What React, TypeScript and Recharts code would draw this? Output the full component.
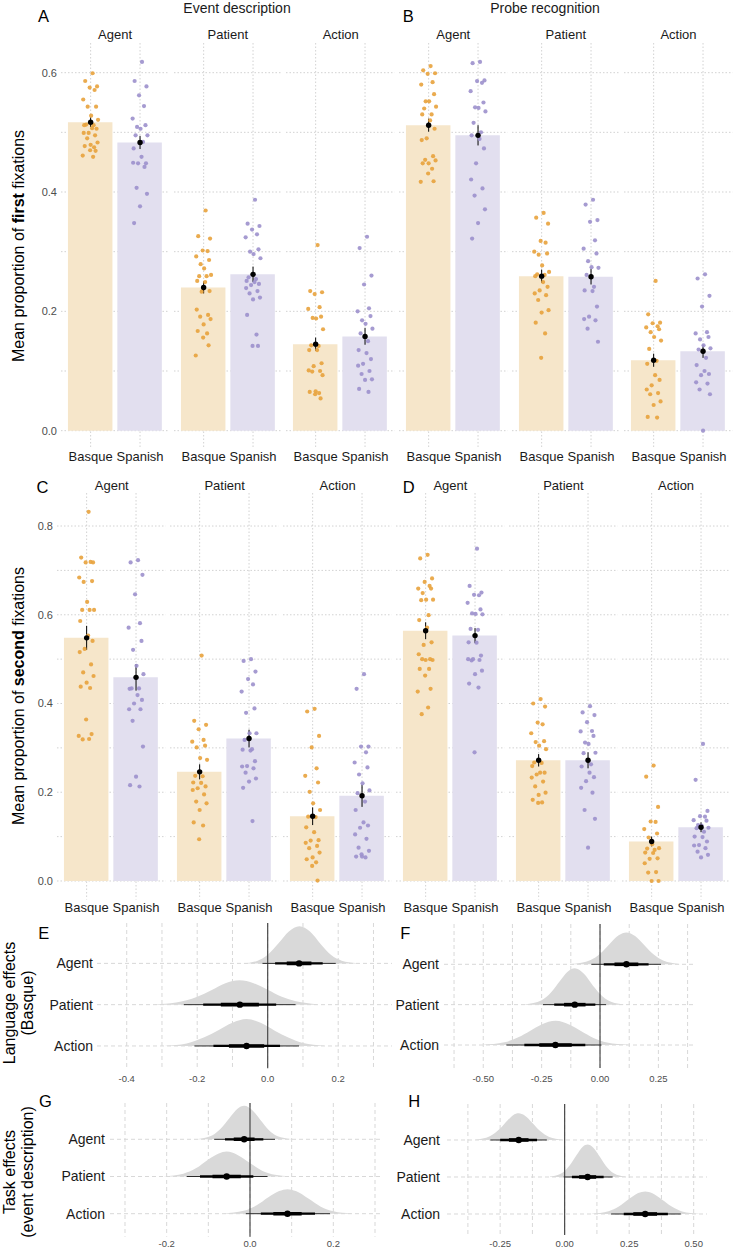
import React from 'react';
import { ComposedChart, Bar, Cell, Scatter, ErrorBar, XAxis, YAxis, CartesianGrid, Area, Line, ReferenceLine } from 'recharts';

const FONT = '"Liberation Sans", Arial, Helvetica, sans-serif';

const LANGS = ['Basque', 'Spanish'];
const ROLES = ['Agent', 'Patient', 'Action'];
const ROW_LABEL: Record<number, string> = { 3: 'Agent', 2: 'Patient', 1: 'Action' };

// ---------- A: Event description, first fixations ----------
const ED1_AGENT_BQ = [0.599, 0.586, 0.577, 0.575, 0.571, 0.555, 0.543, 0.543, 0.528, 0.521, 0.513, 0.512, 0.512, 0.507, 0.506, 0.499, 0.499, 0.495, 0.49, 0.483, 0.479, 0.477, 0.475, 0.47, 0.469, 0.461, 0.459];
const ED1_AGENT_ES = [0.618, 0.586, 0.577, 0.562, 0.544, 0.523, 0.512, 0.509, 0.506, 0.495, 0.495, 0.484, 0.473, 0.459, 0.448, 0.448, 0.449, 0.442, 0.407, 0.397, 0.376, 0.348];
const ED1_PATIENT_BQ = [0.369, 0.326, 0.322, 0.302, 0.301, 0.292, 0.286, 0.279, 0.272, 0.261, 0.259, 0.259, 0.251, 0.249, 0.234, 0.233, 0.203, 0.194, 0.191, 0.187, 0.178, 0.167, 0.163, 0.156, 0.143, 0.126];
const ED1_PATIENT_ES = [0.387, 0.347, 0.343, 0.337, 0.329, 0.324, 0.304, 0.3, 0.296, 0.289, 0.257, 0.254, 0.251, 0.249, 0.246, 0.244, 0.239, 0.234, 0.23, 0.223, 0.22, 0.194, 0.161, 0.142, 0.142];
const ED1_ACTION_BQ = [0.311, 0.234, 0.232, 0.229, 0.207, 0.204, 0.191, 0.189, 0.188, 0.17, 0.143, 0.142, 0.135, 0.135, 0.113, 0.108, 0.101, 0.1, 0.099, 0.093, 0.066, 0.065, 0.063, 0.061, 0.054];
const ED1_ACTION_ES = [0.325, 0.306, 0.26, 0.245, 0.205, 0.2, 0.192, 0.185, 0.179, 0.171, 0.163, 0.15, 0.135, 0.13, 0.12, 0.112, 0.109, 0.1, 0.095, 0.086, 0.085, 0.07, 0.065];
const ED1_MEANS = [[0.517, 0.483], [0.24, 0.262], [0.145, 0.158]];
const ED1_SE = [[0.008, 0.011], [0.01, 0.013], [0.011, 0.014]];

// ---------- B: Probe recognition, first fixations ----------
const PR1_AGENT_BQ = [0.611, 0.604, 0.599, 0.598, 0.584, 0.58, 0.564, 0.552, 0.552, 0.543, 0.54, 0.53, 0.53, 0.52, 0.506, 0.49, 0.487, 0.46, 0.454, 0.453, 0.448, 0.448, 0.439, 0.431, 0.418, 0.417];
const PR1_AGENT_ES = [0.618, 0.616, 0.587, 0.586, 0.583, 0.569, 0.55, 0.542, 0.541, 0.535, 0.516, 0.5, 0.495, 0.489, 0.473, 0.448, 0.421, 0.406, 0.394, 0.371, 0.348, 0.322];
const PR1_PATIENT_BQ = [0.365, 0.357, 0.347, 0.318, 0.315, 0.3, 0.297, 0.295, 0.277, 0.266, 0.262, 0.261, 0.259, 0.249, 0.241, 0.235, 0.23, 0.227, 0.219, 0.202, 0.198, 0.181, 0.163, 0.122];
const PR1_PATIENT_ES = [0.387, 0.379, 0.353, 0.35, 0.319, 0.305, 0.297, 0.284, 0.274, 0.273, 0.261, 0.241, 0.235, 0.234, 0.208, 0.191, 0.187, 0.185, 0.171, 0.149];
const PR1_ACTION_BQ = [0.251, 0.195, 0.181, 0.18, 0.175, 0.173, 0.17, 0.165, 0.157, 0.151, 0.137, 0.117, 0.112, 0.093, 0.085, 0.076, 0.069, 0.063, 0.061, 0.049, 0.043, 0.023, 0.022];
const PR1_ACTION_ES = [0.262, 0.255, 0.226, 0.208, 0.165, 0.163, 0.157, 0.153, 0.143, 0.138, 0.136, 0.122, 0.11, 0.1, 0.095, 0.093, 0.081, 0.079, 0.069, 0.061, 0.0];
const PR1_MEANS = [[0.512, 0.495], [0.259, 0.258], [0.118, 0.133]];
const PR1_SE = [[0.011, 0.017], [0.011, 0.013], [0.011, 0.011]];

// ---------- C: Event description, second fixations ----------
const ED2_AGENT_BQ = [0.832, 0.729, 0.718, 0.718, 0.719, 0.684, 0.676, 0.674, 0.629, 0.611, 0.611, 0.611, 0.586, 0.553, 0.541, 0.523, 0.516, 0.488, 0.47, 0.462, 0.447, 0.438, 0.435, 0.364, 0.331, 0.327, 0.32, 0.319];
const ED2_AGENT_ES = [0.723, 0.718, 0.69, 0.646, 0.581, 0.571, 0.541, 0.521, 0.485, 0.466, 0.434, 0.434, 0.433, 0.419, 0.408, 0.4, 0.387, 0.387, 0.361, 0.303, 0.235, 0.216, 0.213];
const ED2_PATIENT_BQ = [0.508, 0.361, 0.352, 0.342, 0.318, 0.314, 0.305, 0.301, 0.277, 0.273, 0.237, 0.236, 0.222, 0.221, 0.213, 0.209, 0.205, 0.195, 0.179, 0.175, 0.16, 0.132, 0.125, 0.094];
const ED2_PATIENT_ES = [0.5, 0.496, 0.472, 0.455, 0.443, 0.427, 0.389, 0.379, 0.333, 0.333, 0.318, 0.297, 0.296, 0.294, 0.27, 0.259, 0.258, 0.254, 0.244, 0.231, 0.224, 0.21, 0.135];
const ED2_ACTION_BQ = [0.388, 0.382, 0.327, 0.301, 0.254, 0.237, 0.222, 0.201, 0.175, 0.16, 0.145, 0.144, 0.121, 0.11, 0.092, 0.091, 0.086, 0.079, 0.074, 0.064, 0.053, 0.049, 0.042, 0.034, 0.001];
const ED2_ACTION_ES = [0.466, 0.433, 0.303, 0.303, 0.29, 0.267, 0.256, 0.24, 0.22, 0.204, 0.198, 0.179, 0.16, 0.132, 0.125, 0.12, 0.105, 0.095, 0.075, 0.068, 0.055, 0.055, 0.053, 0.06];
const ED2_MEANS = [[0.548, 0.459], [0.246, 0.321], [0.146, 0.192]];
const ED2_SE = [[0.027, 0.03], [0.017, 0.02], [0.02, 0.025]];

// ---------- D: Probe recognition, second fixations ----------
const PR2_AGENT_BQ = [0.735, 0.727, 0.682, 0.674, 0.665, 0.659, 0.659, 0.649, 0.634, 0.634, 0.633, 0.599, 0.588, 0.571, 0.538, 0.532, 0.511, 0.5, 0.5, 0.498, 0.498, 0.478, 0.478, 0.463, 0.433, 0.427, 0.391, 0.376];
const PR2_AGENT_ES = [0.749, 0.665, 0.65, 0.645, 0.644, 0.627, 0.612, 0.603, 0.602, 0.601, 0.568, 0.566, 0.538, 0.537, 0.508, 0.5, 0.5, 0.498, 0.497, 0.474, 0.466, 0.445, 0.436, 0.29];
const PR2_PATIENT_BQ = [0.41, 0.4, 0.393, 0.357, 0.353, 0.333, 0.315, 0.313, 0.305, 0.297, 0.267, 0.266, 0.259, 0.244, 0.244, 0.24, 0.233, 0.224, 0.213, 0.199, 0.194, 0.183, 0.177, 0.176];
const PR2_PATIENT_ES = [0.394, 0.38, 0.374, 0.358, 0.338, 0.337, 0.327, 0.312, 0.309, 0.289, 0.288, 0.263, 0.258, 0.244, 0.234, 0.225, 0.21, 0.199, 0.16, 0.14, 0.075];
const PR2_ACTION_BQ = [0.26, 0.235, 0.167, 0.134, 0.133, 0.117, 0.107, 0.098, 0.083, 0.074, 0.073, 0.07, 0.064, 0.063, 0.051, 0.05, 0.04, 0.02, 0.019, 0.0, 0.0];
const PR2_ACTION_ES = [0.309, 0.228, 0.158, 0.146, 0.145, 0.137, 0.136, 0.126, 0.125, 0.12, 0.119, 0.111, 0.1, 0.099, 0.089, 0.081, 0.08, 0.074, 0.066, 0.059, 0.053];
const PR2_MEANS = [[0.564, 0.553], [0.272, 0.272], [0.089, 0.121]];
const PR2_SE = [[0.019, 0.017], [0.014, 0.018], [0.011, 0.011]];

// horizontal jitter of participant points (category units)
const JITTER = [0.04, -0.11, 0.13, -0.02, 0.08, -0.15, 0.11, -0.06, 0.01, 0.15, -0.09, 0.06, -0.13, 0.03, 0.12, -0.04, -0.14, 0.09, -0.07, 0.14, 0.0, -0.12, 0.07, -0.01, 0.1, -0.16, 0.05, -0.08, 0.12, -0.03];

// ---------- E-H: posterior densities [effect, relative height] ----------
const E_DENSITY = [
  [[-0.07, 0], [-0.03, 0.06], [0.0, 0.21], [0.03, 0.48], [0.06, 0.77], [0.09, 0.9], [0.12, 0.77], [0.15, 0.47], [0.18, 0.2], [0.21, 0.065], [0.25, 0.01]],
  [[-0.32, 0.006], [-0.26, 0.05], [-0.2, 0.19], [-0.16, 0.35], [-0.12, 0.52], [-0.08, 0.59], [-0.04, 0.52], [0.0, 0.36], [0.04, 0.19], [0.08, 0.08], [0.14, 0.012]],
  [[-0.29, 0.006], [-0.23, 0.06], [-0.18, 0.21], [-0.14, 0.38], [-0.1, 0.56], [-0.06, 0.65], [-0.02, 0.56], [0.02, 0.37], [0.06, 0.2], [0.1, 0.07], [0.16, 0.008]],
];
const E_INTERVALS = [[-0.015, 0.021, 0.054, 0.124, 0.156, 0.193], [-0.238, -0.183, -0.133, -0.025, 0.024, 0.079], [-0.208, -0.154, -0.11, -0.01, 0.035, 0.089]];
const E_MEDIANS = [0.089, -0.079, -0.06];

const F_DENSITY = [
  [[-0.12, 0.007], [-0.04, 0.105], [0.0, 0.26], [0.04, 0.5], [0.08, 0.72], [0.113, 0.79], [0.15, 0.7], [0.19, 0.475], [0.23, 0.24], [0.27, 0.093], [0.34, 0.009]],
  [[-0.32, 0.008], [-0.25, 0.108], [-0.21, 0.3], [-0.17, 0.6], [-0.14, 0.81], [-0.108, 0.9], [-0.07, 0.77], [-0.03, 0.47], [0.01, 0.21], [0.05, 0.066], [0.1, 0.01]],
  [[-0.5, 0.007], [-0.41, 0.066], [-0.35, 0.19], [-0.3, 0.35], [-0.25, 0.51], [-0.19, 0.6], [-0.13, 0.5], [-0.08, 0.34], [-0.03, 0.18], [0.03, 0.06], [0.12, 0.007]],
];
const F_INTERVALS = [[-0.037, 0.016, 0.062, 0.164, 0.208, 0.261], [-0.244, -0.196, -0.154, -0.062, -0.02, 0.026], [-0.401, -0.324, -0.26, -0.121, -0.063, 0.006]];
const F_MEDIANS = [0.113, -0.108, -0.191];

const G_DENSITY = [
  [[-0.125, 0.01], [-0.09, 0.11], [-0.07, 0.29], [-0.05, 0.56], [-0.03, 0.82], [-0.014, 0.9], [0.005, 0.79], [0.025, 0.52], [0.045, 0.25], [0.065, 0.09], [0.1, 0.008]],
  [[-0.206, 0.007], [-0.16, 0.077], [-0.13, 0.22], [-0.1, 0.46], [-0.075, 0.62], [-0.056, 0.67], [-0.03, 0.58], [0.0, 0.36], [0.03, 0.15], [0.06, 0.045], [0.094, 0.007]],
  [[-0.063, 0.007], [-0.015, 0.079], [0.015, 0.22], [0.045, 0.45], [0.07, 0.61], [0.09, 0.66], [0.11, 0.61], [0.14, 0.41], [0.17, 0.19], [0.2, 0.064], [0.243, 0.007]],
];
const G_INTERVALS = [[-0.086, -0.06, -0.039, 0.011, 0.032, 0.06], [-0.152, -0.12, -0.09, -0.022, 0.008, 0.042], [-0.01, 0.026, 0.056, 0.124, 0.156, 0.192]];
const G_MEDIANS = [-0.014, -0.056, 0.09];

const H_DENSITY = [
  [[-0.346, 0.008], [-0.29, 0.1], [-0.25, 0.31], [-0.22, 0.54], [-0.2, 0.67], [-0.178, 0.72], [-0.155, 0.66], [-0.125, 0.46], [-0.095, 0.24], [-0.06, 0.08], [-0.01, 0.008]],
  [[-0.057, 0.01], [-0.01, 0.11], [0.02, 0.32], [0.045, 0.58], [0.07, 0.82], [0.089, 0.88], [0.11, 0.8], [0.135, 0.56], [0.16, 0.3], [0.19, 0.1], [0.235, 0.01]],
  [[0.105, 0.007], [0.17, 0.073], [0.21, 0.2], [0.25, 0.41], [0.285, 0.57], [0.312, 0.61], [0.34, 0.56], [0.375, 0.4], [0.415, 0.2], [0.455, 0.07], [0.52, 0.007]],
];
const H_INTERVALS = [[-0.288, -0.25, -0.216, -0.14, -0.107, -0.069], [-0.004, 0.028, 0.056, 0.122, 0.151, 0.186], [0.18, 0.229, 0.266, 0.358, 0.4, 0.45]];
const H_MEDIANS = [-0.178, 0.089, 0.312];

const COLORS = { dot: ['#E8A23C', '#9C90CC'], bar: ['#F6E6CA', '#E2DFEF'] };
const FW = 108.7;

function Facet({ left, top, ph, domain, yTicks, showY, means, ses, dots }: any) {
  const YW = showY ? 40 : 0;
  const XH = 24;
  const barData = LANGS.map((lang, i) => ({ lang, v: means[i] }));
  const meanData = LANGS.map((lang, i) => ({ x: i, y: means[i], e: ses[i] }));
  return (
    <div style={{ position: 'absolute', left: left - YW, top }}>
      <ComposedChart width={YW + FW} height={ph + XH} data={barData} margin={{ top: 0, right: 0, bottom: 0, left: 0 }}>
        <CartesianGrid xAxisId="num" stroke="#d2d2d2" strokeDasharray="1.5 2" syncWithTicks />
        <XAxis xAxisId="cat" dataKey="lang" type="category" padding={{ left: FW / 22, right: FW / 22 }} axisLine={false} tickLine={false} tickSize={0} tickMargin={3} height={XH} interval={0} tick={{ fontSize: 13, fill: '#1a1a1a', fontFamily: FONT }} />
        <XAxis xAxisId="num" dataKey="x" type="number" domain={[-0.6, 1.6]} ticks={[0, 1]} allowDataOverflow hide />
        <YAxis type="number" domain={domain} ticks={yTicks} allowDataOverflow hide={!showY} width={YW} axisLine={false} tickLine={false} tickSize={0} tickMargin={4} interval={0} tick={{ fontSize: 11, fill: '#4d4d4d', fontFamily: FONT }} tickFormatter={(v: number) => (Math.round(v * 10) % 2 === 0 ? v.toFixed(1) : '')} />
        <Bar xAxisId="cat" dataKey="v" barSize={44.5} isAnimationActive={false}>
          {barData.map((d, i) => <Cell key={i} fill={COLORS.bar[i]} />)}
        </Bar>
        {LANGS.map((lang, i) => (
          <Scatter key={lang} xAxisId="num" data={dots[i].map((y: number, k: number) => ({ x: i + JITTER[k % JITTER.length], y }))} dataKey="y" isAnimationActive={false}
            shape={(p: any) => <circle cx={p.cx} cy={p.cy} r={2.1} fill={COLORS.dot[i]} fillOpacity={0.9} />} />
        ))}
        <Scatter xAxisId="num" data={meanData} dataKey="y" isAnimationActive={false} shape={(p: any) => <circle cx={p.cx} cy={p.cy} r={2.7} fill="#000" />}>
          <ErrorBar dataKey="e" direction="y" width={0} stroke="#000" strokeWidth={1} />
        </Scatter>
      </ComposedChart>
    </div>
  );
}

function Ridge({ left, top, pw, ph, yw, ytm, xDomain, yDomain, xTicks, fmt, tm, dens, ints, meds }: any) {
  const XH = 22;
  const widths = [1, 2.3, 3.6];
  return (
    <div style={{ position: 'absolute', left: left - yw, top }}>
      <ComposedChart width={yw + pw} height={ph + XH} margin={{ top: 0, right: 0, bottom: 0, left: 0 }}>
        <CartesianGrid stroke="#d8d8d8" strokeDasharray="4 3" syncWithTicks />
        <XAxis type="number" dataKey="x" domain={xDomain} ticks={xTicks} interval={0} allowDataOverflow axisLine={false} tickLine={false} tickSize={0} tickMargin={tm} height={XH} tick={{ fontSize: 9.5, fill: '#4d4d4d', fontFamily: FONT }} tickFormatter={fmt} />
        <YAxis type="number" domain={yDomain} ticks={[1, 2, 3]} interval={0} allowDataOverflow axisLine={false} tickLine={false} tickSize={0} tickMargin={ytm} width={yw} tick={{ fontSize: 14, fill: '#1a1a1a', fontFamily: FONT }} tickFormatter={(v: number) => ROW_LABEL[v]} />
        {dens.map((d: number[][], r: number) => {
          const row = 3 - r;
          return <Area key={'a' + r} data={d.map(([x, h]) => ({ x, y: row + h }))} dataKey="y" baseValue={row} type="monotone" stroke="none" fill="#d9d9d9" fillOpacity={1} isAnimationActive={false} />;
        })}
        <ReferenceLine x={0} stroke="#3a3a3a" strokeWidth={1.1} />
        {ints.map((iv: number[], r: number) => {
          const row = 3 - r;
          return [0, 1, 2].map((lvl) => (
            <Line key={'l' + r + '-' + lvl} data={[{ x: iv[lvl], y: row }, { x: iv[5 - lvl], y: row }]} dataKey="y" stroke={lvl === 0 ? '#2a2a2a' : '#000'} strokeWidth={widths[lvl]} dot={false} activeDot={false} isAnimationActive={false} />
          ));
        })}
        <Scatter data={meds.map((m: number, r: number) => ({ x: m, y: 3 - r }))} dataKey="y" isAnimationActive={false} shape={(p: any) => <circle cx={p.cx} cy={p.cy} r={3.2} fill="#000" />} />
      </ComposedChart>
    </div>
  );
}

const tenthsFmt = (v: number) => (Math.round(v * 10) % 2 === 0 ? v.toFixed(1) : '');
const quarterFmt = (v: number) => (Math.round(v * 8) % 2 === 0 ? v.toFixed(2) : '');

const TOP_YT = [0, 0.1, 0.2, 0.3, 0.4, 0.5, 0.6];
const BOT_YT = [0, 0.1, 0.2, 0.3, 0.4, 0.5, 0.6, 0.7, 0.8];

export default function App() {
  const panels = [
    { key: 'A', lefts: [60.7, 173.5, 286.4], top: 43, ph: 406, domain: [-0.0307, 0.6497], yt: TOP_YT, showY: true, means: ED1_MEANS, ses: ED1_SE, dots: [[ED1_AGENT_BQ, ED1_AGENT_ES], [ED1_PATIENT_BQ, ED1_PATIENT_ES], [ED1_ACTION_BQ, ED1_ACTION_ES]] },
    { key: 'B', lefts: [398.9, 511.5, 624.1], top: 43, ph: 406, domain: [-0.0307, 0.6497], yt: TOP_YT, showY: false, means: PR1_MEANS, ses: PR1_SE, dots: [[PR1_AGENT_BQ, PR1_AGENT_ES], [PR1_PATIENT_BQ, PR1_PATIENT_ES], [PR1_ACTION_BQ, PR1_ACTION_ES]] },
    { key: 'C', lefts: [57.4, 170.3, 283.3], top: 493, ph: 406.5, domain: [-0.0417, 0.8744], yt: BOT_YT, showY: true, means: ED2_MEANS, ses: ED2_SE, dots: [[ED2_AGENT_BQ, ED2_AGENT_ES], [ED2_PATIENT_BQ, ED2_PATIENT_ES], [ED2_ACTION_BQ, ED2_ACTION_ES]] },
    { key: 'D', lefts: [396.1, 509.1, 621.7], top: 493, ph: 406.5, domain: [-0.0417, 0.8744], yt: BOT_YT, showY: false, means: PR2_MEANS, ses: PR2_SE, dots: [[PR2_AGENT_BQ, PR2_AGENT_ES], [PR2_PATIENT_BQ, PR2_PATIENT_ES], [PR2_ACTION_BQ, PR2_ACTION_ES]] },
  ];
  return (
    <div style={{ position: 'absolute', left: 0, top: 0, width: 734, height: 1249, background: '#fff', overflow: 'hidden', fontFamily: FONT }}>
      {panels.map((p) =>
        p.lefts.map((l, f) => (
          <Facet key={p.key + f} left={l} top={p.top} ph={p.ph} domain={p.domain} yTicks={p.yt} showY={p.showY && f === 0} means={p.means[f]} ses={p.ses[f]} dots={p.dots[f]} />
        ))
      )}
      <Ridge left={97} top={923} pw={295} ph={145.3} yw={60} ytm={4} xDomain={[-0.4843, 0.3526]} yDomain={[0.459, 3.978]} xTicks={[-0.4, -0.3, -0.2, -0.1, 0, 0.1, 0.2, 0.3]} fmt={tenthsFmt} tm={7.3} dens={E_DENSITY} ints={E_INTERVALS} meds={E_MEDIANS} />
      <Ridge left={444} top={924} pw={251} ph={144} yw={60} ytm={5} xDomain={[-0.668, 0.4067]} yDomain={[0.43, 3.999]} xTicks={[-0.625, -0.5, -0.375, -0.25, -0.125, 0, 0.125, 0.25, 0.375]} fmt={quarterFmt} tm={6.9} dens={F_DENSITY} ints={F_INTERVALS} meds={F_MEDIANS} />
      <Ridge left={110} top={1103} pw={270} ph={133.7} yw={60} ytm={5} xDomain={[-0.336, 0.312]} yDomain={[0.382, 3.976]} xTicks={[-0.3, -0.2, -0.1, 0, 0.1, 0.2, 0.3]} fmt={tenthsFmt} tm={3.9} dens={G_DENSITY} ints={G_INTERVALS} meds={G_MEDIANS} />
      <Ridge left={447} top={1104} pw={260} ph={131} yw={60} ytm={7} xDomain={[-0.456, 0.5516]} yDomain={[0.432, 3.973]} xTicks={[-0.375, -0.25, -0.125, 0, 0.125, 0.25, 0.375, 0.5]} fmt={quarterFmt} tm={5.6} dens={H_DENSITY} ints={H_INTERVALS} meds={H_MEDIANS} />
      <svg width={734} height={1249} style={{ position: 'absolute', left: 0, top: 0, pointerEvents: 'none' }} fontFamily={FONT}>
        <text x={237} y={13} fontSize={14} textAnchor="middle" fill="#1a1a1a">Event description</text>
        <text x={545} y={12.5} fontSize={14} textAnchor="middle" fill="#1a1a1a">Probe recognition</text>
        {[['A', 43.5, 22], ['B', 408.3, 22], ['C', 42.5, 493], ['D', 408.8, 493], ['E', 43.8, 939.3], ['F', 405.3, 939.3], ['G', 45.5, 1106.7], ['H', 414.2, 1106.7]].map(([t, x, y]) => (
          <text key={t as string} x={x as number} y={y as number} fontSize={16.5} textAnchor="middle" fill="#000">{t}</text>
        ))}
        {panels.map((p) =>
          p.lefts.map((l, f) => (
            <text key={'s' + p.key + f} x={l + FW / 2} y={p.top === 43 ? 38.7 : 490} fontSize={13} textAnchor="middle" fill="#1a1a1a">{ROLES[f]}</text>
          ))
        )}
        <text transform="translate(24,246) rotate(-90)" fontSize={16} textAnchor="middle" fill="#000">Mean proportion of <tspan fontWeight="bold">first</tspan> fixations</text>
        <text transform="translate(24,696) rotate(-90)" fontSize={16} textAnchor="middle" fill="#000">Mean proportion of <tspan fontWeight="bold">second</tspan> fixations</text>
        <text transform="translate(15,1003) rotate(-90)" fontSize={16} textAnchor="middle" fill="#000">Language effects</text>
        <text transform="translate(33,1003) rotate(-90)" fontSize={16} textAnchor="middle" fill="#000">(Basque)</text>
        <text transform="translate(15,1172) rotate(-90)" fontSize={16} textAnchor="middle" fill="#000">Task effects</text>
        <text transform="translate(33,1172) rotate(-90)" fontSize={16} textAnchor="middle" fill="#000">(event description)</text>
      </svg>
    </div>
  );
}
